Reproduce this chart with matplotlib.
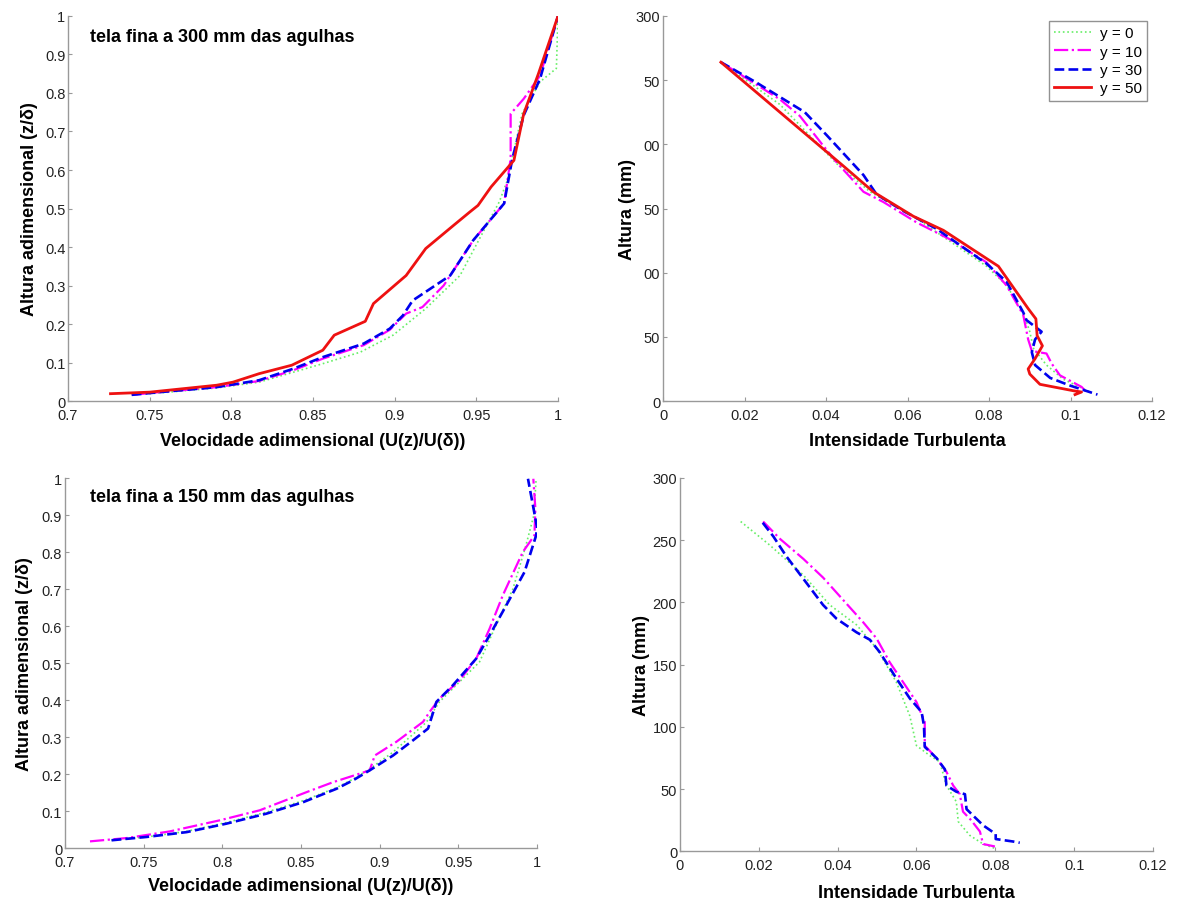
import matplotlib.pyplot as plt

plt.rcParams['font.family'] = ['Liberation Sans', 'DejaVu Sans']

# ---- top-left: velocity profile, tela fina a 300 mm ----
vel300_y0_u = [0.739, 0.756, 0.791, 0.817, 0.856, 0.879, 0.899, 0.919, 0.940, 0.952, 0.964, 0.969, 0.972, 0.978, 0.989, 0.999, 1.0]
vel300_y0_z = [0.016, 0.021, 0.034, 0.049, 0.097, 0.127, 0.171, 0.240, 0.326, 0.422, 0.517, 0.573, 0.630, 0.746, 0.829, 0.864, 1.0]
vel300_y10_u = [0.739, 0.756, 0.791, 0.817, 0.838, 0.856, 0.881, 0.897, 0.907, 0.917, 0.930, 0.948, 0.967, 0.971, 0.971, 0.979, 0.989, 1.0]
vel300_y10_z = [0.016, 0.023, 0.036, 0.052, 0.080, 0.110, 0.145, 0.185, 0.227, 0.244, 0.300, 0.417, 0.513, 0.630, 0.746, 0.785, 0.845, 1.0]
vel300_y30_u = [0.739, 0.756, 0.791, 0.817, 0.838, 0.856, 0.881, 0.897, 0.905, 0.911, 0.934, 0.948, 0.967, 0.972, 0.979, 0.989, 1.0]
vel300_y30_z = [0.016, 0.023, 0.036, 0.054, 0.084, 0.114, 0.149, 0.188, 0.222, 0.261, 0.326, 0.417, 0.513, 0.629, 0.742, 0.837, 1.0]
vel300_y50_u = [0.726, 0.750, 0.791, 0.801, 0.817, 0.837, 0.856, 0.863, 0.882, 0.887, 0.907, 0.919, 0.936, 0.946, 0.951, 0.959, 0.973, 0.979, 0.988, 1.0]
vel300_y50_z = [0.019, 0.023, 0.041, 0.049, 0.071, 0.093, 0.132, 0.171, 0.207, 0.253, 0.326, 0.396, 0.456, 0.491, 0.508, 0.556, 0.625, 0.746, 0.850, 1.0]

# ---- top-right: turbulence intensity, tela fina a 300 mm ----
ti300_y0_i = [0.0142, 0.0287, 0.0426, 0.0508, 0.0623, 0.0794, 0.0843, 0.0884, 0.0900, 0.0909, 0.0941, 0.0982, 0.1048]
ti300_y0_h = [264, 231, 185, 163, 142, 105, 90, 69, 54, 41, 28, 17, 7]
ti300_y10_i = [0.0142, 0.0287, 0.0336, 0.0393, 0.0426, 0.0492, 0.0541, 0.0623, 0.0704, 0.0794, 0.0843, 0.0884, 0.0896, 0.0905, 0.0941, 0.0954, 0.0974, 0.1027, 0.1039]
ti300_y10_h = [264, 235, 222, 199, 186, 163, 155, 139, 126, 108, 90, 67, 48, 39, 37, 29, 20, 11, 7]
ti300_y30_i = [0.0142, 0.0230, 0.0348, 0.0402, 0.0492, 0.0524, 0.0590, 0.0672, 0.0794, 0.0843, 0.0884, 0.0892, 0.0929, 0.0913, 0.0905, 0.0913, 0.0950, 0.0999, 0.1066]
ti300_y30_h = [264, 248, 225, 207, 176, 161, 148, 134, 107, 93, 69, 63, 54, 48, 38, 28, 18, 12, 5]
ti300_y50_i = [0.0142, 0.0443, 0.0516, 0.0614, 0.0688, 0.0823, 0.0896, 0.0915, 0.0918, 0.0931, 0.0913, 0.0896, 0.0900, 0.0925, 0.1007, 0.1027, 0.1011]
ti300_y50_h = [264, 183, 163, 144, 133, 105, 72, 64, 51, 43, 33, 25, 21, 13, 8, 7, 5]

# ---- bottom-left: velocity profile, tela fina a 150 mm ----
vel150_y0_u = [0.7296, 0.7519, 0.7773, 0.8027, 0.8281, 0.8514, 0.8725, 0.8831, 0.8937, 0.9085, 0.9297, 0.9380, 0.9635, 0.9740, 0.9847, 0.9930, 0.9980, 0.9995]
vel150_y0_z = [0.021, 0.030, 0.045, 0.069, 0.097, 0.128, 0.163, 0.186, 0.214, 0.259, 0.340, 0.395, 0.503, 0.602, 0.700, 0.818, 0.899, 0.998]
vel150_y10_u = [0.7159, 0.7392, 0.7667, 0.7985, 0.8238, 0.8535, 0.8704, 0.8873, 0.8937, 0.8969, 0.9106, 0.9276, 0.9318, 0.9381, 0.9508, 0.9614, 0.9699, 0.9783, 0.9910, 0.9984, 0.9990, 0.9977]
vel150_y10_z = [0.018, 0.027, 0.045, 0.075, 0.102, 0.151, 0.178, 0.201, 0.210, 0.250, 0.287, 0.341, 0.368, 0.404, 0.453, 0.512, 0.593, 0.683, 0.800, 0.845, 0.917, 0.998]
vel150_y30_u = [0.7296, 0.7519, 0.7773, 0.8027, 0.8281, 0.8514, 0.8725, 0.8831, 0.8937, 0.9085, 0.9212, 0.9308, 0.9361, 0.9466, 0.9614, 0.9699, 0.9805, 0.9921, 0.9995, 1.0, 0.9943]
vel150_y30_z = [0.021, 0.030, 0.043, 0.066, 0.093, 0.124, 0.160, 0.183, 0.210, 0.250, 0.291, 0.323, 0.395, 0.440, 0.512, 0.575, 0.656, 0.746, 0.845, 0.868, 0.998]

# ---- bottom-right: turbulence intensity, tela fina a 150 mm ----
ti150_y0_i = [0.0154, 0.0228, 0.0313, 0.0380, 0.0448, 0.0499, 0.0549, 0.0583, 0.0600, 0.0634, 0.0659, 0.0676, 0.0701, 0.0706, 0.0735, 0.0769, 0.0803]
ti150_y0_h = [265, 246, 222, 198, 182, 163, 136, 109, 85, 77, 72, 53, 40, 24, 13, 6, 2]
ti150_y10_i = [0.0211, 0.0254, 0.0313, 0.0363, 0.0414, 0.0465, 0.0499, 0.0532, 0.0566, 0.0600, 0.0621, 0.0621, 0.0651, 0.0676, 0.0693, 0.0710, 0.0718, 0.0739, 0.0761, 0.0769, 0.0799]
ti150_y10_h = [265, 251, 235, 220, 202, 184, 171, 152, 136, 120, 104, 85, 75, 64, 53, 46, 32, 25, 16, 6, 4]
ti150_y30_i = [0.0210, 0.0237, 0.0270, 0.0313, 0.0363, 0.0397, 0.0448, 0.0482, 0.0507, 0.0549, 0.0583, 0.0613, 0.0619, 0.0621, 0.0651, 0.0672, 0.0676, 0.0701, 0.0723, 0.0727, 0.0769, 0.0801, 0.0801, 0.0845, 0.0862]
ti150_y30_h = [264, 253, 237, 219, 198, 187, 176, 170, 160, 139, 123, 112, 101, 84, 75, 66, 53, 48, 46, 34, 21, 14, 10, 8, 7]

series_labels = ['y = 0', 'y = 10', 'y = 30', 'y = 50']
vel_ticks = [0.7, 0.75, 0.8, 0.85, 0.9, 0.95, 1.0]
vel_ticklabels = ['0.7', '0.75', '0.8', '0.85', '0.9', '0.95', '1']
z_ticks = [0, 0.1, 0.2, 0.3, 0.4, 0.5, 0.6, 0.7, 0.8, 0.9, 1.0]
z_ticklabels = ['0', '0.1', '0.2', '0.3', '0.4', '0.5', '0.6', '0.7', '0.8', '0.9', '1']
ti_ticks = [0, 0.02, 0.04, 0.06, 0.08, 0.1, 0.12]
ti_ticklabels = ['0', '0.02', '0.04', '0.06', '0.08', '0.1', '0.12']
h_ticks = [0, 50, 100, 150, 200, 250, 300]
h_ticklabels_top = ['0', '50', '00', '50', '00', '50', '300']
h_ticklabels_bottom = ['0', '50', '100', '150', '200', '250', '300']

styles = {
    'y = 0': dict(color='#66ee66', linestyle=':', linewidth=1.2),
    'y = 10': dict(color='#ff00ff', linestyle='-.', linewidth=1.6),
    'y = 30': dict(color='#0000ee', linestyle='--', linewidth=1.9),
    'y = 50': dict(color='#ee1111', linestyle='-', linewidth=2.0),
}

fig = plt.figure(figsize=(11.77, 9.04), dpi=100)
ax_tl = fig.add_axes([0.0578, 0.5553, 0.4163, 0.4259])
ax_tr = fig.add_axes([0.5633, 0.5553, 0.4155, 0.4259])
ax_bl = fig.add_axes([0.0552, 0.0608, 0.4010, 0.4093])
ax_br = fig.add_axes([0.5777, 0.0570, 0.4019, 0.4132])


def style_axes(ax):
    for s in ['top', 'right']:
        ax.spines[s].set_visible(False)
    for s in ['left', 'bottom']:
        ax.spines[s].set_color('#999999')
        ax.spines[s].set_linewidth(1.0)
    ax.tick_params(direction='in', length=3, width=0.8, color='#999999',
                   labelsize=10.5, labelcolor='#222222')
    ax.tick_params(axis='x', pad=5)
    ax.tick_params(axis='y', pad=2)


lab_font = dict(fontsize=13, fontweight='bold')

# top-left
ax_tl.plot(vel300_y0_u, vel300_y0_z, **styles['y = 0'])
ax_tl.plot(vel300_y10_u, vel300_y10_z, **styles['y = 10'])
ax_tl.plot(vel300_y30_u, vel300_y30_z, **styles['y = 30'])
ax_tl.plot(vel300_y50_u, vel300_y50_z, **styles['y = 50'])
ax_tl.set_xlim(0.7, 1.0)
ax_tl.set_ylim(0, 1)
ax_tl.set_xticks(vel_ticks, vel_ticklabels)
ax_tl.set_yticks(z_ticks, z_ticklabels)
ax_tl.set_xlabel('Velocidade adimensional (U(z)/U(δ))', labelpad=7, **lab_font)
ax_tl.set_ylabel('Altura adimensional (z/δ)', labelpad=5, **lab_font)
ax_tl.text(0.045, 0.948, 'tela fina a 300 mm das agulhas', transform=ax_tl.transAxes,
           fontsize=13, fontweight='bold', va='center', ha='left')
style_axes(ax_tl)

# top-right
lines = []
lines += ax_tr.plot(ti300_y0_i, ti300_y0_h, **styles['y = 0'])
lines += ax_tr.plot(ti300_y10_i, ti300_y10_h, **styles['y = 10'])
lines += ax_tr.plot(ti300_y30_i, ti300_y30_h, **styles['y = 30'])
lines += ax_tr.plot(ti300_y50_i, ti300_y50_h, **styles['y = 50'])
ax_tr.set_xlim(0, 0.12)
ax_tr.set_ylim(0, 300)
ax_tr.set_xticks(ti_ticks, ti_ticklabels)
ax_tr.set_yticks(h_ticks, h_ticklabels_top)
ax_tr.set_xlabel('Intensidade Turbulenta', labelpad=7, **lab_font)
ax_tr.set_ylabel('Altura (mm)', labelpad=0, **lab_font)
leg = ax_tr.legend(lines, series_labels, loc='upper right', bbox_to_anchor=(0.99, 0.987),
                   fontsize=11, frameon=True, fancybox=False, handlelength=2.4,
                   borderpad=0.35, labelspacing=0.28, handletextpad=0.6,
                   borderaxespad=0.0)
leg.get_frame().set_edgecolor('#777777')
leg.get_frame().set_linewidth(1.0)
style_axes(ax_tr)

# bottom-left
ax_bl.plot(vel150_y0_u, vel150_y0_z, **styles['y = 0'])
ax_bl.plot(vel150_y10_u, vel150_y10_z, **styles['y = 10'])
ax_bl.plot(vel150_y30_u, vel150_y30_z, **styles['y = 30'])
ax_bl.set_xlim(0.7, 1.0)
ax_bl.set_ylim(0, 1)
ax_bl.set_xticks(vel_ticks, vel_ticklabels)
ax_bl.set_yticks(z_ticks, z_ticklabels)
ax_bl.set_xlabel('Velocidade adimensional (U(z)/U(δ))', labelpad=6, **lab_font)
ax_bl.set_ylabel('Altura adimensional (z/δ)', labelpad=6, **lab_font)
ax_bl.text(0.053, 0.951, 'tela fina a 150 mm das agulhas', transform=ax_bl.transAxes,
           fontsize=13, fontweight='bold', va='center', ha='left')
style_axes(ax_bl)

# bottom-right
ax_br.plot(ti150_y0_i, ti150_y0_h, **styles['y = 0'])
ax_br.plot(ti150_y10_i, ti150_y10_h, **styles['y = 10'])
ax_br.plot(ti150_y30_i, ti150_y30_h, **styles['y = 30'])
ax_br.set_xlim(0, 0.12)
ax_br.set_ylim(0, 300)
ax_br.set_xticks(ti_ticks, ti_ticklabels)
ax_br.set_yticks(h_ticks, h_ticklabels_bottom)
ax_br.set_xlabel('Intensidade Turbulenta', labelpad=8, **lab_font)
ax_br.set_ylabel('Altura (mm)', labelpad=2, **lab_font)
style_axes(ax_br)

fig.savefig('out.png', dpi=100, facecolor='white')
